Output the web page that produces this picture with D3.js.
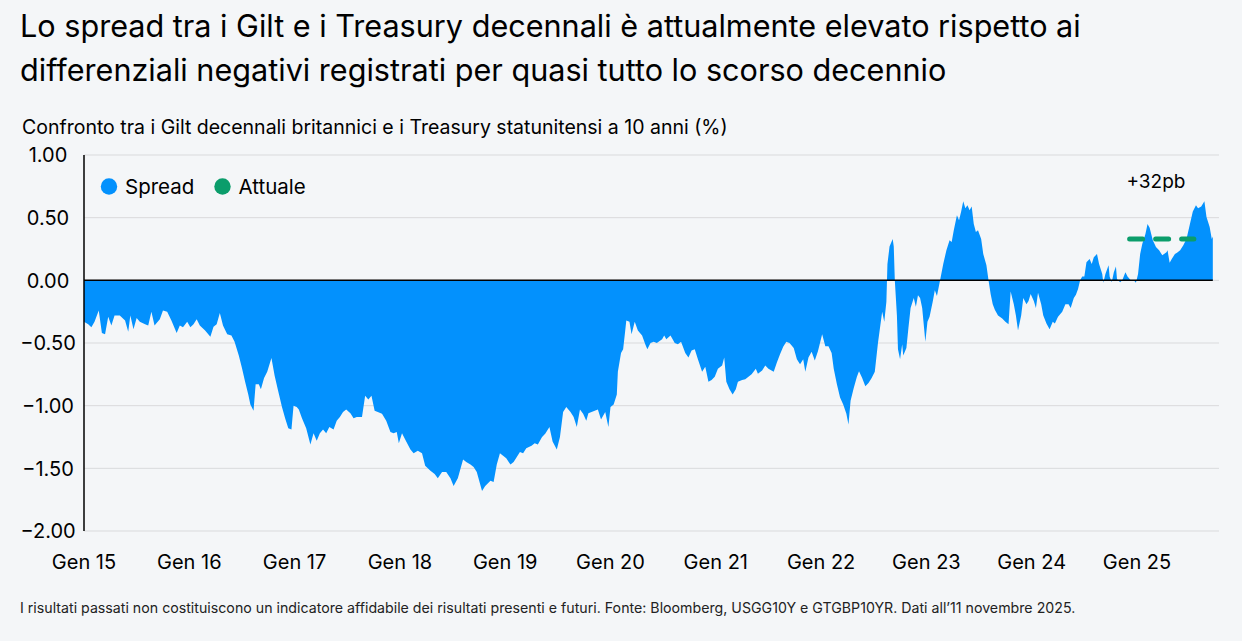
<!DOCTYPE html>
<html lang="it">
<head>
<meta charset="utf-8">
<script src="https://cdn.jsdelivr.net/npm/d3@7"></script>
<style>
  body { margin: 0; background: #f4f6f8; }
  svg { display: block; font-family: Inter, "Noto Sans", sans-serif; }
</style>
</head>
<body>
<div id="chart"></div>
<script>
// DATA
const titleLines = [
  "Lo spread tra i Gilt e i Treasury decennali è attualmente elevato rispetto ai",
  "differenziali negativi registrati per quasi tutto lo scorso decennio"
];
const subtitle = "Confronto tra i Gilt decennali britannici e i Treasury statunitensi a 10 anni (%)";
const footnote = "I risultati passati non costituiscono un indicatore affidabile dei risultati presenti e futuri. Fonte: Bloomberg, USGG10Y e GTGBP10YR. Dati all\u201911 novembre 2025.";

const xTickYears = [2015, 2016, 2017, 2018, 2019, 2020, 2021, 2022, 2023, 2024, 2025];
const xTickLabels = ["Gen 15", "Gen 16", "Gen 17", "Gen 18", "Gen 19", "Gen 20", "Gen 21", "Gen 22", "Gen 23", "Gen 24", "Gen 25"];
const yTicks = [1, 0.5, 0, -0.5, -1, -1.5, -2];

const legendItems = ["Spread", "Attuale"];

// current spread (dashed line) and its label
const attuale = { value: 0.33, from: 2024.93, to: 2025.54, label: "+32pb", labelYear: 2025.18 };

// [decimal year, spread %]
const spreadSeries = [
  [2015.00,-0.33],[2015.04,-0.35],[2015.07,-0.375],[2015.10,-0.33],[2015.14,-0.24],[2015.17,-0.42],[2015.20,-0.43],[2015.23,-0.29],[2015.26,-0.36],[2015.29,-0.28],[2015.34,-0.28],[2015.39,-0.32],[2015.42,-0.41],[2015.44,-0.28],[2015.47,-0.39],[2015.50,-0.30],[2015.53,-0.33],[2015.58,-0.35],[2015.61,-0.36],[2015.64,-0.25],[2015.67,-0.36],[2015.72,-0.31],[2015.75,-0.24],[2015.79,-0.25],[2015.83,-0.32],[2015.88,-0.42],[2015.91,-0.36],[2015.94,-0.375],[2015.98,-0.33],
  [2016.01,-0.375],[2016.04,-0.35],[2016.07,-0.31],[2016.10,-0.36],[2016.15,-0.40],[2016.20,-0.45],[2016.23,-0.37],[2016.26,-0.35],[2016.29,-0.26],[2016.32,-0.36],[2016.36,-0.43],[2016.40,-0.44],[2016.43,-0.49],[2016.47,-0.60],[2016.50,-0.70],[2016.53,-0.81],[2016.56,-0.91],[2016.58,-0.99],[2016.61,-1.04],[2016.63,-0.83],[2016.66,-0.83],[2016.68,-0.87],[2016.71,-0.78],[2016.74,-0.73],[2016.78,-0.62],[2016.81,-0.76],[2016.84,-0.87],[2016.88,-1.01],[2016.91,-1.10],[2016.94,-1.18],[2016.97,-1.19],[2016.99,-1.00],
  [2017.02,-1.01],[2017.04,-1.03],[2017.07,-1.10],[2017.11,-1.18],[2017.15,-1.31],[2017.18,-1.22],[2017.21,-1.28],[2017.24,-1.22],[2017.27,-1.19],[2017.30,-1.22],[2017.33,-1.17],[2017.37,-1.19],[2017.40,-1.12],[2017.43,-1.09],[2017.46,-1.05],[2017.49,-1.03],[2017.53,-1.06],[2017.56,-1.10],[2017.59,-1.09],[2017.64,-1.09],[2017.67,-0.92],[2017.70,-0.95],[2017.73,-0.92],[2017.76,-1.04],[2017.79,-1.05],[2017.83,-1.065],[2017.87,-1.12],[2017.91,-1.21],[2017.94,-1.22],[2017.97,-1.21],[2017.99,-1.30],
  [2018.02,-1.22],[2018.06,-1.285],[2018.10,-1.35],[2018.13,-1.38],[2018.17,-1.36],[2018.21,-1.38],[2018.24,-1.48],[2018.29,-1.52],[2018.33,-1.545],[2018.36,-1.58],[2018.40,-1.53],[2018.44,-1.53],[2018.48,-1.58],[2018.51,-1.64],[2018.55,-1.58],[2018.60,-1.43],[2018.63,-1.45],[2018.67,-1.47],[2018.70,-1.49],[2018.73,-1.53],[2018.78,-1.68],[2018.81,-1.64],[2018.86,-1.60],[2018.89,-1.61],[2018.92,-1.47],[2018.95,-1.38],[2018.98,-1.40],
  [2019.01,-1.42],[2019.05,-1.47],[2019.08,-1.45],[2019.11,-1.41],[2019.14,-1.37],[2019.17,-1.38],[2019.20,-1.34],[2019.25,-1.32],[2019.28,-1.30],[2019.31,-1.31],[2019.35,-1.25],[2019.38,-1.225],[2019.42,-1.17],[2019.45,-1.285],[2019.49,-1.35],[2019.52,-1.25],[2019.55,-1.05],[2019.58,-1.01],[2019.62,-1.05],[2019.65,-1.09],[2019.68,-1.17],[2019.71,-1.03],[2019.74,-1.065],[2019.77,-1.12],[2019.79,-1.06],[2019.82,-1.05],[2019.85,-1.04],[2019.88,-1.03],[2019.91,-1.11],[2019.95,-1.05],[2019.98,-1.17],
  [2020.00,-1.01],[2020.03,-0.99],[2020.06,-0.91],[2020.07,-0.73],[2020.10,-0.58],[2020.12,-0.55],[2020.14,-0.40],[2020.15,-0.32],[2020.18,-0.33],[2020.20,-0.43],[2020.23,-0.33],[2020.26,-0.40],[2020.30,-0.44],[2020.33,-0.51],[2020.35,-0.55],[2020.38,-0.50],[2020.41,-0.49],[2020.44,-0.50],[2020.49,-0.47],[2020.51,-0.44],[2020.53,-0.47],[2020.57,-0.44],[2020.61,-0.50],[2020.64,-0.51],[2020.67,-0.49],[2020.71,-0.58],[2020.74,-0.615],[2020.77,-0.56],[2020.80,-0.55],[2020.83,-0.63],[2020.87,-0.73],[2020.90,-0.69],[2020.93,-0.81],[2020.96,-0.795],[2020.99,-0.77],
  [2021.02,-0.705],[2021.06,-0.68],[2021.08,-0.615],[2021.10,-0.81],[2021.13,-0.87],[2021.16,-0.91],[2021.19,-0.87],[2021.21,-0.81],[2021.25,-0.795],[2021.28,-0.79],[2021.31,-0.77],[2021.34,-0.75],[2021.38,-0.705],[2021.40,-0.745],[2021.44,-0.72],[2021.47,-0.68],[2021.50,-0.705],[2021.55,-0.73],[2021.58,-0.655],[2021.61,-0.59],[2021.64,-0.53],[2021.67,-0.49],[2021.70,-0.50],[2021.74,-0.54],[2021.77,-0.63],[2021.80,-0.67],[2021.83,-0.63],[2021.85,-0.73],[2021.88,-0.615],[2021.91,-0.57],[2021.94,-0.64],[2021.97,-0.565],
  [2022.01,-0.43],[2022.04,-0.525],[2022.07,-0.525],[2022.10,-0.58],[2022.12,-0.705],[2022.15,-0.83],[2022.18,-0.935],[2022.21,-0.99],[2022.24,-1.065],[2022.26,-1.15],[2022.28,-0.96],[2022.31,-0.86],[2022.34,-0.77],[2022.36,-0.725],[2022.39,-0.78],[2022.42,-0.845],[2022.45,-0.82],[2022.48,-0.78],[2022.51,-0.73],[2022.54,-0.50],[2022.58,-0.25],[2022.60,-0.33],[2022.62,-0.17],[2022.63,0.13],[2022.65,0.27],[2022.68,0.33],[2022.69,0.27],[2022.70,0.00],[2022.72,-0.28],[2022.73,-0.55],[2022.75,-0.63],[2022.77,-0.51],[2022.78,-0.60],[2022.81,-0.54],[2022.83,-0.375],[2022.85,-0.22],[2022.88,-0.14],[2022.90,-0.21],[2022.92,-0.12],[2022.94,-0.14],[2022.96,-0.22],[2022.99,-0.49],
  [2023.01,-0.33],[2023.03,-0.29],[2023.06,-0.17],[2023.08,-0.08],[2023.10,-0.125],[2023.13,0.00],[2023.16,0.13],[2023.19,0.24],[2023.22,0.32],[2023.24,0.305],[2023.26,0.40],[2023.29,0.52],[2023.31,0.48],[2023.33,0.55],[2023.35,0.63],[2023.37,0.575],[2023.39,0.60],[2023.41,0.56],[2023.43,0.59],[2023.45,0.45],[2023.47,0.385],[2023.49,0.40],[2023.52,0.33],[2023.54,0.21],[2023.57,0.12],[2023.59,0.00],[2023.61,-0.11],[2023.63,-0.19],[2023.65,-0.235],[2023.68,-0.28],[2023.72,-0.305],[2023.75,-0.33],[2023.78,-0.35],[2023.80,-0.09],[2023.83,-0.19],[2023.85,-0.28],[2023.87,-0.40],[2023.90,-0.28],[2023.92,-0.14],[2023.95,-0.19],[2023.97,-0.165],[2023.99,-0.11],
  [2024.02,-0.165],[2024.04,-0.22],[2024.06,-0.10],[2024.09,-0.19],[2024.11,-0.28],[2024.14,-0.345],[2024.17,-0.39],[2024.20,-0.33],[2024.22,-0.345],[2024.25,-0.29],[2024.29,-0.25],[2024.32,-0.19],[2024.35,-0.19],[2024.37,-0.22],[2024.40,-0.14],[2024.42,-0.115],[2024.44,-0.07],[2024.46,0.00],[2024.48,0.03],[2024.50,0.03],[2024.52,0.145],[2024.55,0.17],[2024.57,0.13],[2024.59,0.185],[2024.62,0.21],[2024.64,0.13],[2024.67,0.05],[2024.68,-0.02],[2024.70,0.05],[2024.73,0.12],[2024.74,0.03],[2024.76,-0.015],[2024.78,0.065],[2024.80,0.11],[2024.81,0.01],[2024.84,-0.015],[2024.86,0.00],[2024.89,0.065],[2024.91,0.03],[2024.94,0.00],[2024.97,0.00],[2024.99,-0.02],
  [2025.01,0.05],[2025.03,0.21],[2025.05,0.29],[2025.08,0.37],[2025.10,0.45],[2025.12,0.42],[2025.15,0.32],[2025.18,0.265],[2025.21,0.24],[2025.24,0.20],[2025.28,0.225],[2025.29,0.24],[2025.31,0.14],[2025.33,0.17],[2025.36,0.21],[2025.38,0.22],[2025.41,0.24],[2025.44,0.28],[2025.47,0.33],[2025.50,0.44],[2025.53,0.55],[2025.56,0.60],[2025.58,0.575],[2025.61,0.59],[2025.64,0.63],[2025.66,0.505],[2025.69,0.425],[2025.71,0.33],[2025.72,0.35]
];

// LAYOUT
const width = 1242, height = 641;
const plot = { left: 84, right: 1219, top: 155, bottom: 531 };
const blue = "#0391fd", green = "#0b9d6b";

const svg = d3.select("#chart").append("svg")
  .attr("width", width)
  .attr("height", height);

// titles
svg.append("g").selectAll("text")
  .data(titleLines)
  .join("text")
  .attr("x", 20)
  .attr("y", (d, i) => 37 + i * 44)
  .attr("font-size", 30.6)
  .attr("fill", "#000")
  .text(d => d);

svg.append("text")
  .attr("x", 22)
  .attr("y", 134)
  .attr("font-size", 19.5)
  .attr("fill", "#000")
  .text(subtitle);

// scales
const x = d3.scaleLinear()
  .domain([2015, 2025])
  .range([plot.left, 1137]);

const y = d3.scaleLinear()
  .domain([-2, 1])
  .range([plot.bottom, plot.top]);

// gridlines
svg.append("g")
  .selectAll("line")
  .data(yTicks)
  .join("line")
  .attr("x1", plot.left)
  .attr("x2", plot.right)
  .attr("y1", d => y(d))
  .attr("y2", d => y(d))
  .attr("stroke", "#d9dadc")
  .attr("stroke-width", 1);

// y labels
svg.append("g")
  .selectAll("text")
  .data(yTicks)
  .join("text")
  .attr("x", 48)
  .attr("y", d => y(d))
  .attr("dy", "0.36em")
  .attr("text-anchor", "middle")
  .attr("font-size", 20)
  .attr("fill", "#000")
  .text(d => d3.format(".2f")(d));

// x labels
svg.append("g")
  .selectAll("text")
  .data(xTickYears)
  .join("text")
  .attr("x", d => x(d))
  .attr("y", 569)
  .attr("text-anchor", "middle")
  .attr("font-size", 20)
  .attr("fill", "#000")
  .text((d, i) => xTickLabels[i]);

// area
const area = d3.area()
  .x(d => x(d[0]))
  .y0(y(0))
  .y1(d => y(d[1]));

svg.append("path")
  .attr("d", area(spreadSeries))
  .attr("fill", blue);

// zero line and left axis
svg.append("line")
  .attr("x1", x(spreadSeries[0][0]))
  .attr("x2", x(spreadSeries[spreadSeries.length - 1][0]))
  .attr("y1", y(0))
  .attr("y2", y(0))
  .attr("stroke", "#000")
  .attr("stroke-width", 1.5);

svg.append("line")
  .attr("x1", plot.left)
  .attr("x2", plot.left)
  .attr("y1", y(1))
  .attr("y2", y(-2))
  .attr("stroke", "#000")
  .attr("stroke-width", 1.5);

// current value dashed line
svg.append("line")
  .attr("x1", x(attuale.from))
  .attr("x2", x(attuale.to))
  .attr("y1", y(attuale.value))
  .attr("y2", y(attuale.value))
  .attr("stroke", green)
  .attr("stroke-width", 5)
  .attr("stroke-linecap", "round")
  .attr("stroke-dasharray", "13 13");

svg.append("text")
  .attr("x", x(attuale.labelYear))
  .attr("y", 188)
  .attr("text-anchor", "middle")
  .attr("font-size", 19)
  .attr("fill", "#000")
  .text(attuale.label);

// legend
const legend = svg.append("g")
  .selectAll("g")
  .data(legendItems)
  .join("g")
  .attr("transform", (d, i) => `translate(${109 + i * 113.5}, 186.5)`);

legend.append("circle")
  .attr("r", 8.2)
  .attr("fill", (d, i) => i === 0 ? blue : green);

legend.append("text")
  .attr("x", 16)
  .attr("dy", "0.36em")
  .attr("font-size", 20.5)
  .attr("fill", "#000")
  .text(d => d);

// footnote
svg.append("text")
  .attr("x", 20)
  .attr("y", 613)
  .attr("font-size", 14.2)
  .attr("fill", "#222")
  .text(footnote);
</script>
</body>
</html>
